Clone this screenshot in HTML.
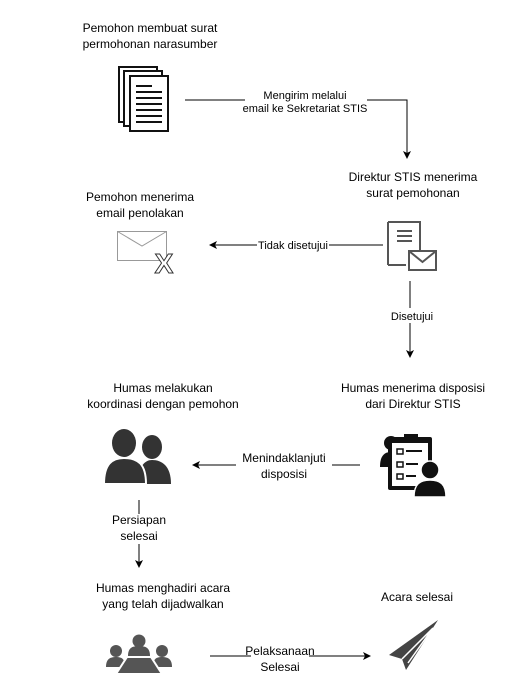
<!DOCTYPE html>
<html><head><meta charset="utf-8"><style>
html,body{margin:0;padding:0;background:#fff;}
svg{display:block;font-family:"Liberation Sans",Arial,sans-serif;}
text{font-size:12px;fill:#000;}
.s{font-size:11px;}
</style></head><body>
<svg width="520" height="700" viewBox="0 0 520 700" xmlns="http://www.w3.org/2000/svg">
<defs><marker id="a" markerWidth="8" markerHeight="8" refX="7" refY="4" orient="auto" markerUnits="userSpaceOnUse"><path d="M0,0 L8,4 L0,8 L2,4 z" fill="#000"/></marker></defs>

<text x="150" y="32" text-anchor="middle">Pemohon membuat surat</text>
<text x="150" y="48" text-anchor="middle">permohonan narasumber</text>
<g fill="#fff" stroke="#111" stroke-width="2">
<rect x="119" y="67" width="38" height="55"/>
<rect x="124" y="71" width="38" height="55"/>
<rect x="130" y="76" width="38" height="55"/>
</g>
<g stroke="#111" stroke-width="2"><line x1="136" y1="86" x2="152" y2="86"/><line x1="136" y1="92" x2="162" y2="92"/><line x1="136" y1="98" x2="162" y2="98"/><line x1="136" y1="104" x2="162" y2="104"/><line x1="136" y1="110" x2="162" y2="110"/><line x1="136" y1="116" x2="162" y2="116"/><line x1="136" y1="122" x2="162" y2="122"/></g>

<path d="M185,100 H407 V158" fill="none" stroke="#000" marker-end="url(#a)"/>
<rect x="245" y="88" width="122" height="26" fill="#fff"/>
<text class="s" x="305" y="99" text-anchor="middle">Mengirim melalui</text>
<text class="s" x="305" y="112" text-anchor="middle">email ke Sekretariat STIS</text>

<text x="413" y="181" text-anchor="middle">Direktur STIS menerima</text>
<text x="413" y="197" text-anchor="middle">surat pemohonan</text>
<text x="140" y="201" text-anchor="middle">Pemohon menerima</text>
<text x="140" y="217" text-anchor="middle">email penolakan</text>

<rect x="117.5" y="231.5" width="49" height="29" fill="#fff" stroke="#999"/>
<path d="M117.5,231.5 L142,246 L166.5,231.5" fill="none" stroke="#999"/>
<text x="164" y="273" text-anchor="middle" style="font-size:28px;font-weight:bold;fill:#fff;stroke:#333;stroke-width:1">X</text>

<path d="M388,222 H420 V255 M406,265 H388 Z" fill="none" stroke="#555" stroke-width="2"/>
<path d="M388,222 V265" stroke="#555" stroke-width="2"/>
<g stroke="#555" stroke-width="2"><line x1="397" y1="231" x2="412" y2="231"/><line x1="397" y1="236" x2="412" y2="236"/><line x1="397" y1="241" x2="412" y2="241"/></g>
<rect x="409" y="251" width="27" height="19" fill="#fff" stroke="#555" stroke-width="2"/>
<path d="M409,251 L422.5,262 L436,251" fill="none" stroke="#555" stroke-width="2"/>

<line x1="383" y1="245" x2="210" y2="245" stroke="#000" marker-end="url(#a)"/>
<rect x="257" y="238" width="72" height="14" fill="#fff"/>
<text class="s" x="293" y="249" text-anchor="middle">Tidak disetujui</text>

<line x1="410" y1="281" x2="410" y2="357" stroke="#000" marker-end="url(#a)"/>
<rect x="388" y="308" width="46" height="15" fill="#fff"/>
<text class="s" x="412" y="320" text-anchor="middle">Disetujui</text>

<text x="163" y="392" text-anchor="middle">Humas melakukan</text>
<text x="163" y="408" text-anchor="middle">koordinasi dengan pemohon</text>
<text x="413" y="392" text-anchor="middle">Humas menerima disposisi</text>
<text x="413" y="408" text-anchor="middle">dari Direktur STIS</text>

<g fill="#333">
<ellipse cx="152" cy="447" rx="10" ry="12"/>
<path d="M138,484 C138,466 145,460 152,460 C162,460 171,466 171,484 Z"/>
<ellipse cx="124" cy="443" rx="12" ry="14"/>
<path d="M104,484 C104,464 112,458 124,458 C138,458 146,464 146,484 Z" stroke="#fff" stroke-width="2"/>
</g>

<g>
<circle cx="391" cy="443" r="7" fill="#111"/>
<path d="M380,467 C380,455 385,452 391,452 C397,452 400,455 400,467 Z" fill="#111"/>
<rect x="388" y="437" width="44" height="53" rx="2" fill="#111"/>
<rect x="392" y="443" width="36" height="43" fill="#fff"/>
<rect x="404" y="434" width="14" height="6" fill="#111"/>
<g fill="none" stroke="#111" stroke-width="1.5"><rect x="397" y="449" width="6" height="5"/><rect x="397" y="462" width="6" height="5"/><rect x="397" y="474" width="6" height="5"/></g>
<g stroke="#111" stroke-width="2"><line x1="406" y1="451" x2="422" y2="451"/><line x1="406" y1="464" x2="418" y2="464"/><line x1="406" y1="476" x2="416" y2="476"/></g>
<circle cx="430" cy="470" r="9" fill="#111" stroke="#fff" stroke-width="1.5"/>
<path d="M414,497 C414,484 420,480 430,480 C440,480 446,484 446,497 Z" fill="#111" stroke="#fff" stroke-width="1.5"/>
</g>

<line x1="360" y1="465" x2="193" y2="465" stroke="#000" marker-end="url(#a)"/>
<rect x="236" y="452" width="96" height="28" fill="#fff"/>
<text x="284" y="462" text-anchor="middle">Menindaklanjuti</text>
<text x="284" y="478" text-anchor="middle">disposisi</text>

<line x1="139" y1="500" x2="139" y2="567" stroke="#000" marker-end="url(#a)"/>
<rect x="110" y="514" width="58" height="30" fill="#fff"/>
<text x="139" y="524" text-anchor="middle">Persiapan</text>
<text x="139" y="540" text-anchor="middle">selesai</text>

<text x="163" y="592" text-anchor="middle">Humas menghadiri acara</text>
<text x="163" y="608" text-anchor="middle">yang telah dijadwalkan</text>
<text x="417" y="601" text-anchor="middle">Acara selesai</text>

<g fill="#555">
<circle cx="139" cy="641" r="6.5"/><path d="M128,656 C128,648 132,646 139,646 C146,646 150,648 150,656 Z"/>
<circle cx="116" cy="651" r="6"/><path d="M106,667 C106,659 110,657 116,657 C122,657 125,659 125,667 Z"/>
<circle cx="162" cy="651" r="6"/><path d="M153,667 C153,659 156,657 162,657 C168,657 172,659 172,667 Z"/>
<path d="M127,657 H151 L162,674 H116 Z" stroke="#fff" stroke-width="2"/>
</g>

<path d="M438,620 L389,655 L402,659 L406,670 Z" fill="#444"/>
<path d="M402,659 L433,628 L408,663" fill="none" stroke="#fff" stroke-width="1.5"/>

<line x1="210" y1="656" x2="370" y2="656" stroke="#000" marker-end="url(#a)"/>
<rect x="251" y="644" width="58" height="30" fill="#fff"/>
<text x="280" y="655" text-anchor="middle">Pelaksanaan</text>
<text x="280" y="671" text-anchor="middle">Selesai</text>
</svg>
</body></html>
